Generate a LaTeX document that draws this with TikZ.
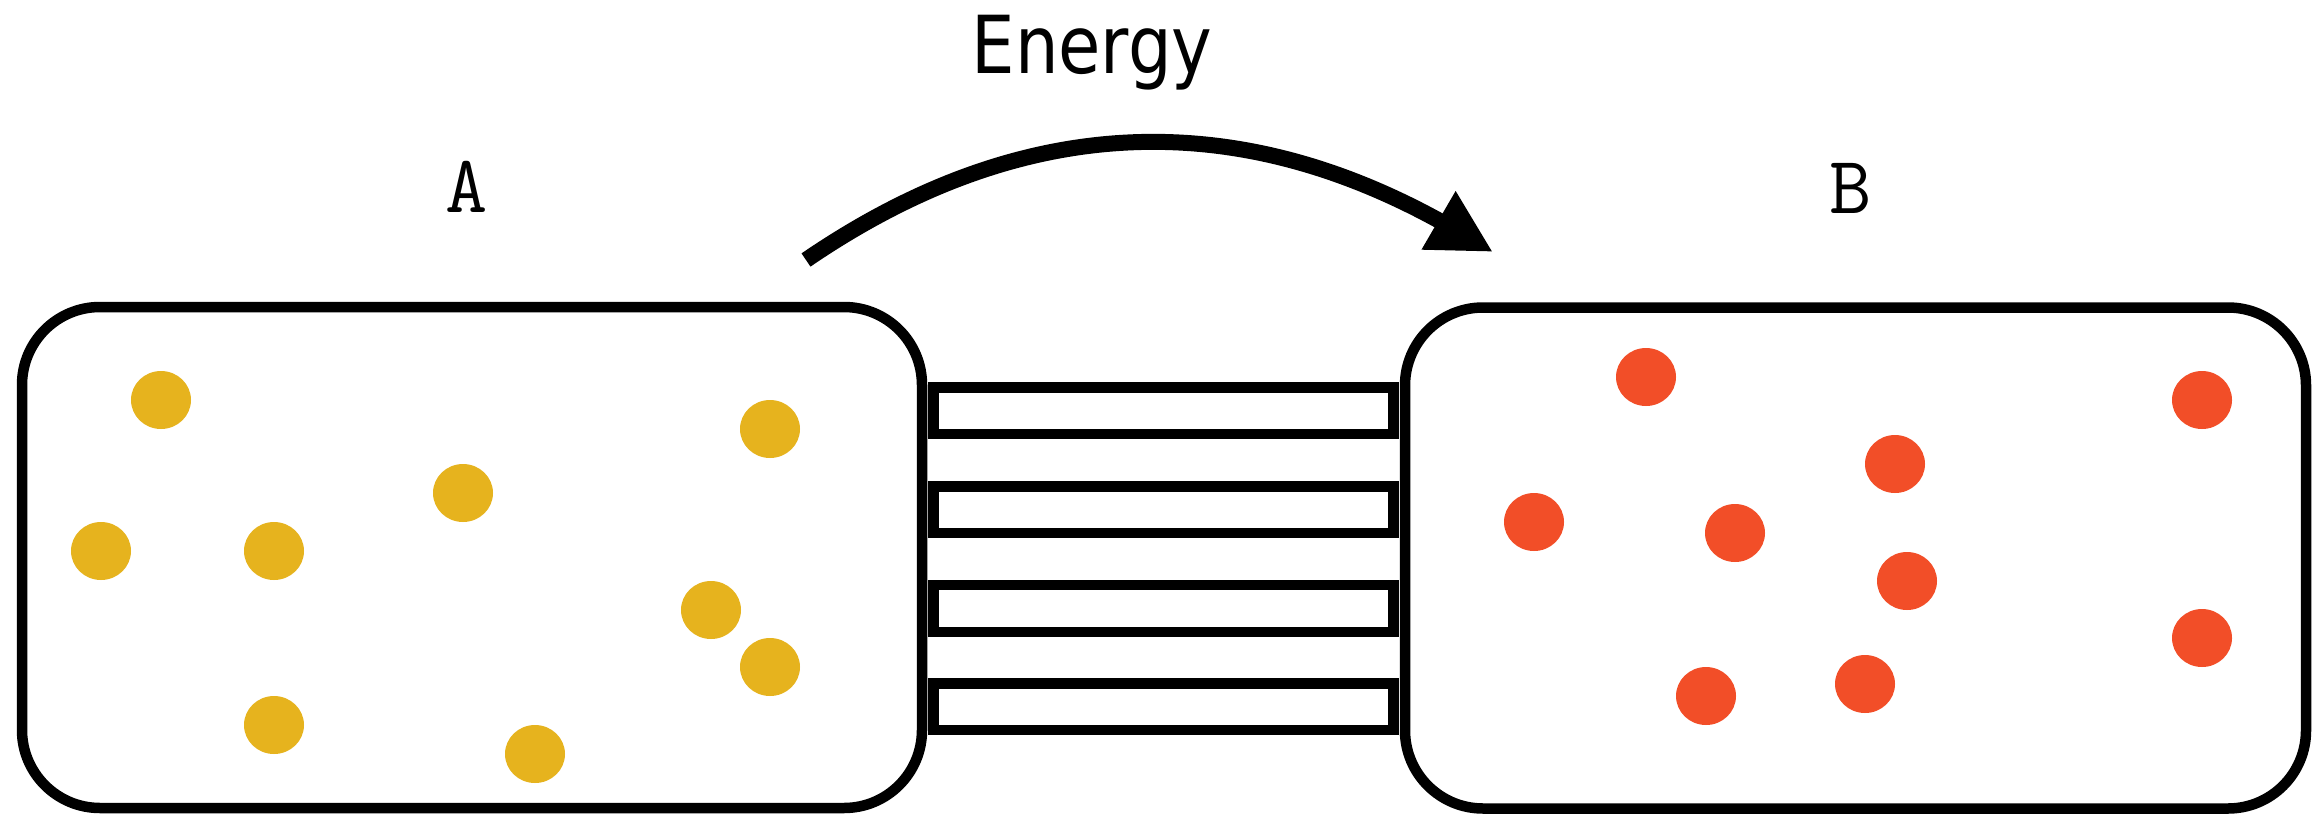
\documentclass[tikz,border=0pt]{standalone}
\usepackage{fontspec}
\newfontfamily\energyfont{DejaVu Sans}
\usetikzlibrary{arrows.meta,shapes.geometric}
\definecolor{dotyellow}{RGB}{230,179,30}
\definecolor{dotred}{RGB}{242,78,40}
\begin{document}
\begin{tikzpicture}[x=1pt,y=-1pt,
  vessel/.style={draw=black,fill=white,line width=10.5pt,rounded corners=78pt,minimum width=900pt,minimum height=501pt,inner sep=0pt},
  rung/.style={draw=black,fill=white,line width=10.3pt,minimum width=460pt,minimum height=46.7pt,inner sep=0pt},
  dotA/.style={ellipse,fill=dotyellow,minimum width=60pt,minimum height=58pt,inner sep=0pt},
  dotB/.style={ellipse,fill=dotred,minimum width=60pt,minimum height=58pt,inner sep=0pt},
  lbl/.style={anchor=base,inner sep=0pt,font=\ttfamily\fontsize{82}{90}\selectfont},
  energyarrow/.style={line width=16pt,-{Triangle[length=63pt,width=63pt]}}
]
\useasboundingbox (0,0) rectangle (2316,814);

% vessels
\node[vessel] (boxA) at (472,557.5) {};
\node[vessel,minimum width=901pt] (boxB) at (1855.5,558) {};

% bridge rungs
\node[rung] (r1) at (1163.5,410.7) {};
\node[rung] (r2) at (1163.5,509.7) {};
\node[rung] (r3) at (1163.5,608.3) {};
\node[rung] (r4) at (1163.5,706.7) {};

% yellow particles
\node[dotA] (a1) at (161,400) {};
\node[dotA] (a2) at (770,429) {};
\node[dotA] (a3) at (463,493) {};
\node[dotA] (a4) at (101,551) {};
\node[dotA] (a5) at (274,551) {};
\node[dotA] (a6) at (711,610) {};
\node[dotA] (a7) at (770,667) {};
\node[dotA] (a8) at (274,725) {};
\node[dotA] (a9) at (535,754) {};

% red particles
\node[dotB] (b1) at (1646,377) {};
\node[dotB] (b2) at (2202,400) {};
\node[dotB] (b3) at (1895,464) {};
\node[dotB] (b4) at (1534,522) {};
\node[dotB] (b5) at (1735,533) {};
\node[dotB] (b6) at (1907,581) {};
\node[dotB] (b7) at (2202,638) {};
\node[dotB] (b8) at (1706,696) {};
\node[dotB] (b9) at (1865,684) {};

% labels
\node[lbl] (labA) at (467,212) {A};
\node[lbl] (labB) at (1851,213) {B};
\node[anchor=base,inner sep=0pt] (energy) at (1092,73) {\scalebox{0.86}[1]{\energyfont\fontsize{80}{90}\selectfont Energy}};

% energy arrow
\coordinate (arrStart) at (806,260);
\coordinate (arrBase) at (1438,220);
\coordinate (arrTip) at (1493,252);
\draw[energyarrow] (arrStart) .. controls (1015,117) and (1226,104) .. (arrBase) -- (arrTip);
\end{tikzpicture}
\end{document}
